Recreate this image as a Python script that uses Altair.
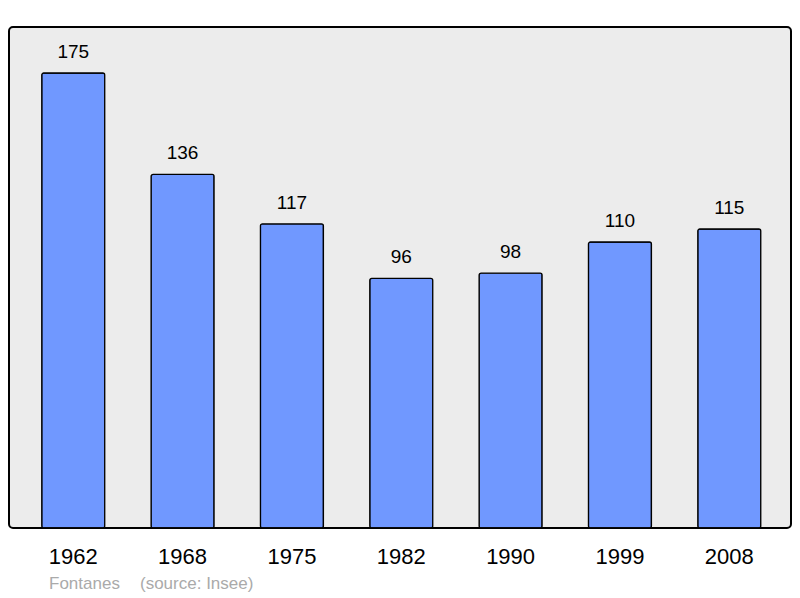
import altair as alt
import pandas as pd

years = ["1962", "1968", "1975", "1982", "1990", "1999", "2008"]
population = [175, 136, 117, 96, 98, 110, 115]
footer_texts = ["Fontanes", "(source: Insee)"]

df = pd.DataFrame({"year": years, "pop": population})

x = alt.X("year:N", sort=years,
          scale=alt.Scale(paddingInner=0.424, paddingOuter=0.288, align=0.52),
          axis=alt.Axis(title=None, labelAngle=0, domain=False, ticks=False,
                        labelFontSize=22, labelPadding=18, labelColor="#000",
                        labelFont="Liberation Sans"))
y = alt.Y("pop:Q", scale=alt.Scale(domain=[0, 192.7], nice=False, zero=True),
          axis=None)

bars = alt.Chart(df).mark_bar(color="#7098ff", stroke="#000", strokeWidth=1.3,
                              cornerRadius=2).encode(x=x, y=y)

labels = alt.Chart(df).mark_text(fontSize=19, font="Liberation Sans", color="#000",
                                 baseline="middle", dy=-21).encode(
    x=x, y=y, text="pop:Q")

foot1 = alt.Chart(pd.DataFrame({"t": [footer_texts[0]]})).mark_text(
    align="left", baseline="middle", fontSize=17, font="Liberation Sans",
    color="#aaaaaa").encode(x=alt.value(40), y=alt.value(557), text="t:N")
foot2 = alt.Chart(pd.DataFrame({"t": [footer_texts[1]]})).mark_text(
    align="left", baseline="middle", fontSize=17, font="Liberation Sans",
    color="#aaaaaa").encode(x=alt.value(131), y=alt.value(557), text="t:N")

chart = alt.layer(bars, labels, foot1, foot2).properties(
    width=782, height=501,
    padding={"left": 1, "top": 19, "right": 1, "bottom": 70},
    autosize="none",
).configure_view(fill="#ececec", stroke="#000", strokeWidth=2, cornerRadius=4)

chart.save("out.html", embed_options={"renderer": "svg", "actions": False})
